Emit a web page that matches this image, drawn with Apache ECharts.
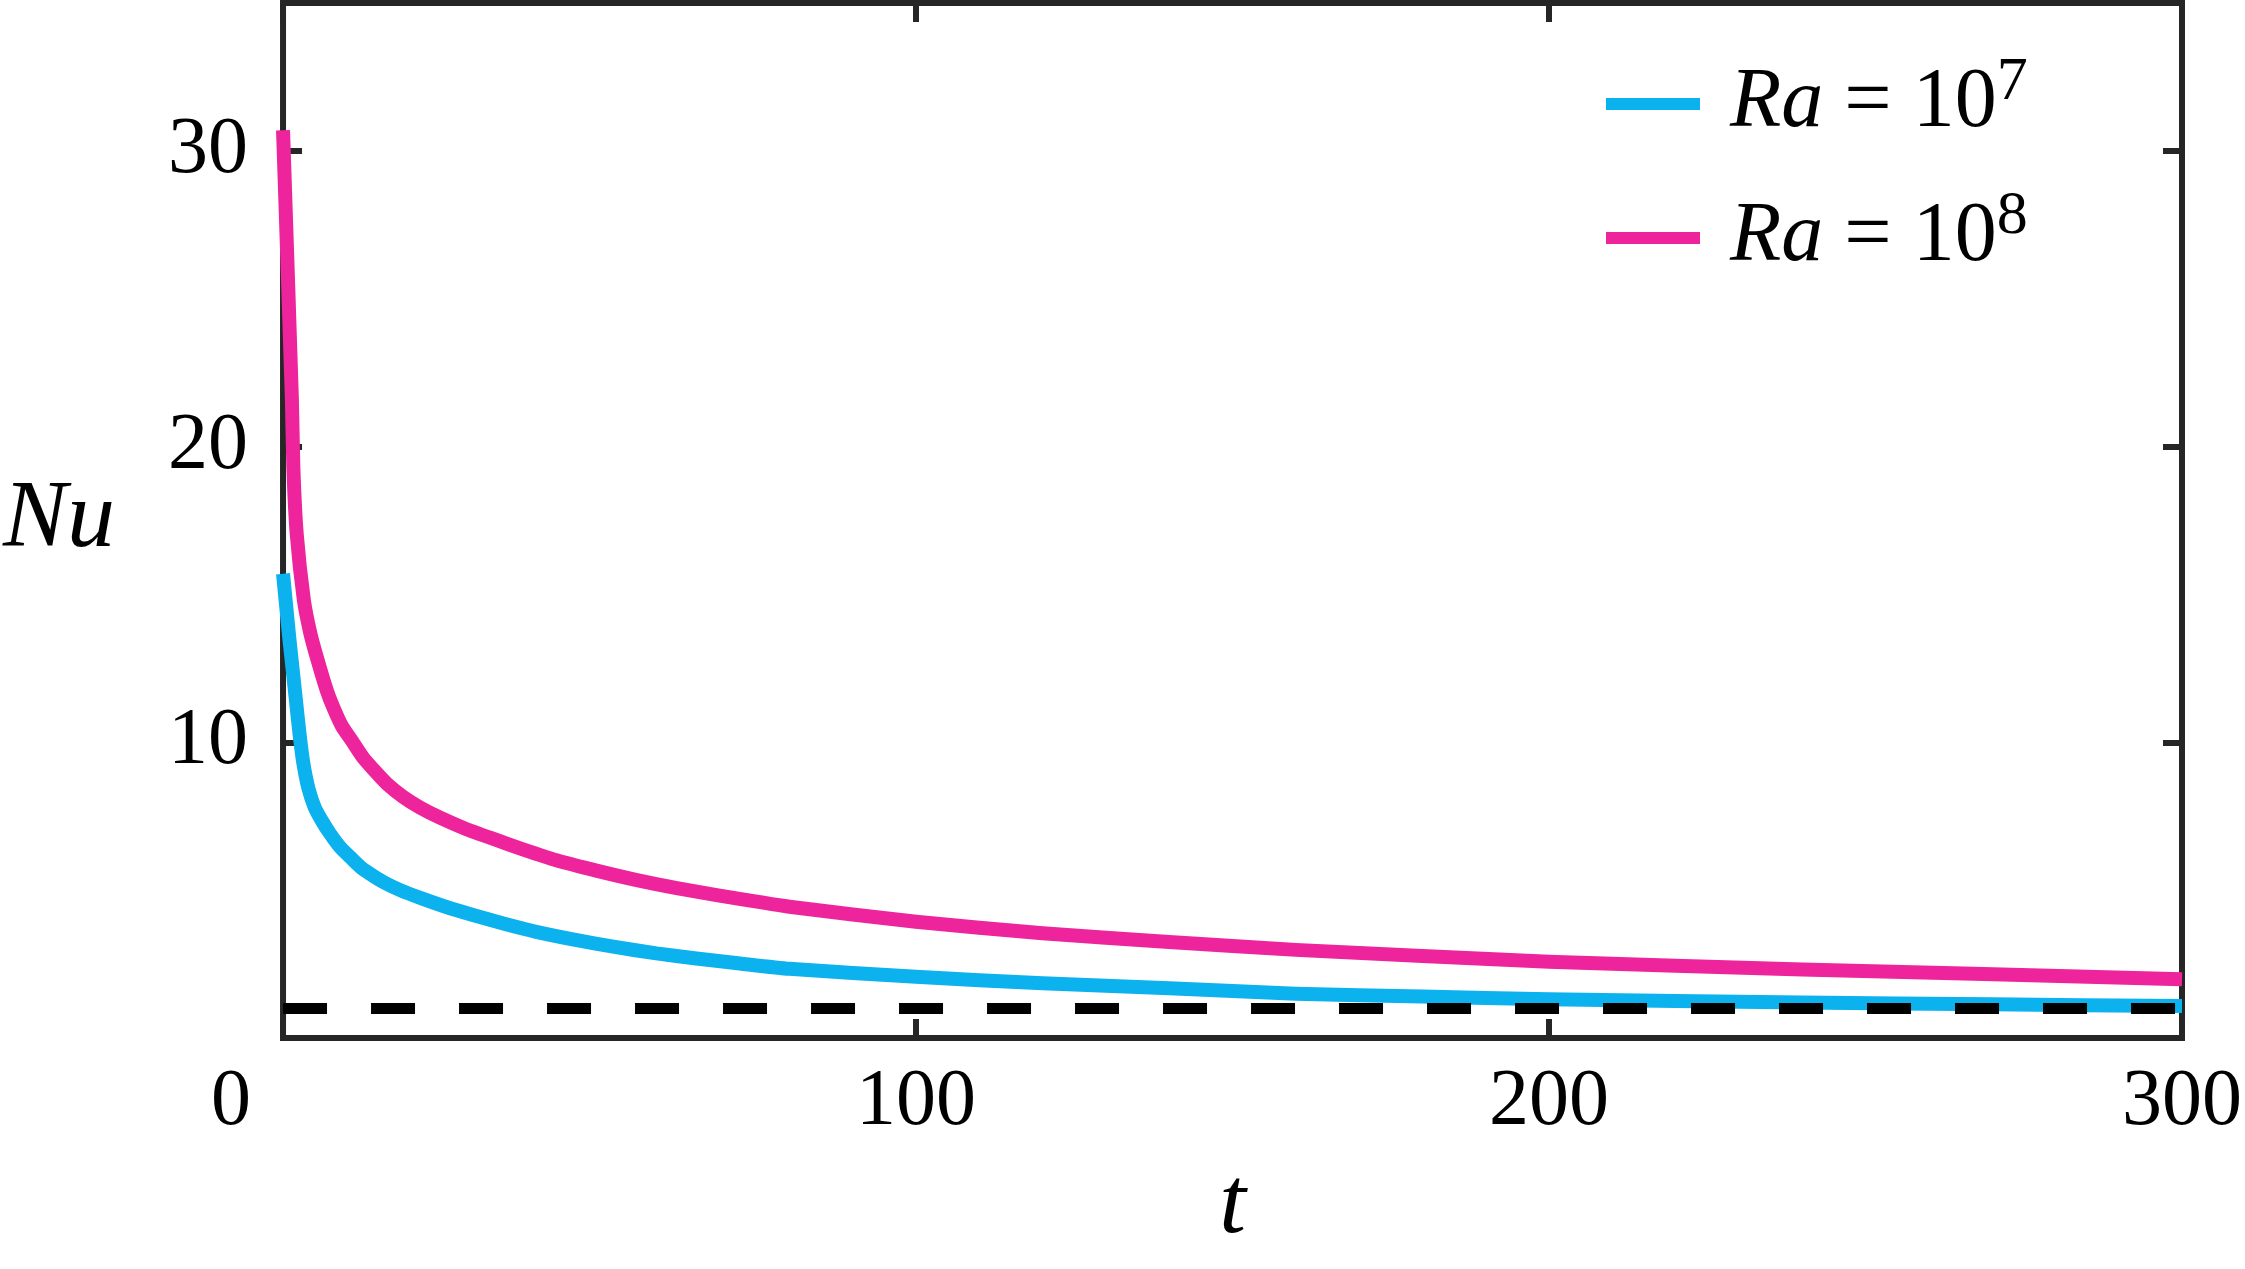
<!DOCTYPE html>
<html>
<head>
<meta charset="utf-8">
<script src="https://cdn.jsdelivr.net/npm/echarts@6/dist/echarts.min.js"></script>
<style>
html,body{margin:0;padding:0;background:#fff;}
#chart{width:2245px;height:1269px;}
</style>
</head>
<body>
<div id="chart"></div>
<script>
// ---- data ----
const tBlue  = [0, 0.5, 1.0, 1.5, 2.0, 2.6, 3.2, 4.0, 5.0, 6.1, 7.4, 9.0, 10.6, 12.2, 13.7, 15.8, 18.5, 21.9, 25.8, 30, 34.8, 40, 46.4, 52.4, 59, 65.3, 72.2, 80, 100, 120, 140, 160, 180, 200, 240, 270, 300];
const nuBlue = [15.7, 14.6, 13.5, 12.5, 11.5, 10.3, 9.3, 8.45, 7.8, 7.36, 6.92, 6.46, 6.12, 5.79, 5.56, 5.28, 5.0, 4.72, 4.43, 4.16, 3.87, 3.59, 3.31, 3.08, 2.86, 2.69, 2.52, 2.34, 2.07, 1.85, 1.68, 1.5, 1.4, 1.31, 1.2, 1.14, 1.08];
const tPink  = [0, 1.4, 1.63, 2.16, 3.3, 4.3, 5.3, 6.9, 7.9, 9.3, 11.1, 12.7, 14.8, 16.4, 19, 21.6, 24.8, 29, 33.8, 37.9, 43.2, 49.5, 55.9, 62.2, 68.5, 80, 100, 120, 140, 160, 200, 240, 300];
const nuPink = [30.7, 21.6, 19.3, 17.05, 14.8, 13.7, 12.9, 11.76, 11.2, 10.55, 9.98, 9.47, 8.96, 8.6, 8.15, 7.8, 7.45, 7.06, 6.69, 6.38, 6.01, 5.66, 5.34, 5.07, 4.83, 4.44, 3.93, 3.54, 3.25, 2.98, 2.58, 2.32, 1.99];
const refT   = [0, 300];
const refNu  = [1, 1];
const raExponents = [7, 8];
const seriesNames = ['Ra = 10^7', 'Ra = 10^8'];
const xTicks = [0, 100, 200, 300];
const yTicks = [10, 20, 30];

const FONT = '"Liberation Serif", "Times New Roman", Times, serif';
const AX = '#262626';
const BLUE = '#0CB2EE';
const PINK = '#EE249C';

const pairs = (xs, ys) => xs.map((x, i) => [x, ys[i]]);

function tick() {
  return { show: true, inside: true, length: 19, lineStyle: { color: AX, width: 6 } };
}

const chart = echarts.init(document.getElementById('chart'), null, { renderer: 'canvas' });
chart.setOption({
  animation: false,
  backgroundColor: '#fff',
  grid: {
    left: 283, right: 62, top: 3, bottom: 231,
    show: true, borderColor: AX, borderWidth: 6, backgroundColor: 'transparent'
  },
  legend: {
    data: seriesNames,
    orient: 'vertical',
    left: 1606, top: 52,
    padding: 0,
    itemWidth: 94, itemHeight: 12, itemGap: 40,
    icon: 'rect',
    formatter: function (name) {
      const e = raExponents[seriesNames.indexOf(name)];
      return '{i|Ra}{n| = 10}{s|' + e + '}';
    },
    textStyle: {
      padding: [0, 0, 0, 25],
      fontFamily: FONT, fontSize: 84, color: '#000',
      rich: {
        i: { fontFamily: FONT, fontStyle: 'italic', fontSize: 84, lineHeight: 84, color: '#000', verticalAlign: 'bottom' },
        n: { fontFamily: FONT, fontSize: 84, lineHeight: 84, color: '#000', verticalAlign: 'bottom' },
        s: { fontFamily: FONT, fontSize: 62, lineHeight: 62, color: '#000', verticalAlign: 'bottom', padding: [0, 0, 32, 0] }
      }
    }
  },
  xAxis: [
    {
      type: 'value', position: 'bottom',
      min: xTicks[0], max: xTicks[xTicks.length - 1], interval: xTicks[1] - xTicks[0],
      axisLine: { show: false, onZero: false },
      axisTick: tick(),
      splitLine: { show: false },
      axisLabel: {
        show: true, inside: false, margin: 25, color: '#000', fontFamily: FONT, fontSize: 80,
        formatter: function (v) { return v === 0 ? '{z|0}' : String(v); },
        rich: { z: { fontFamily: FONT, fontSize: 80, color: '#000', padding: [0, 104, 0, 0] } }
      },
      name: 't', nameLocation: 'middle', nameGap: 121,
      nameTextStyle: { fontFamily: FONT, fontStyle: 'italic', fontSize: 96, color: '#000' }
    },
    {
      type: 'value', position: 'top',
      min: xTicks[0], max: xTicks[xTicks.length - 1], interval: xTicks[1] - xTicks[0],
      axisLine: { show: false, onZero: false }, axisTick: tick(),
      axisLabel: { show: false }, splitLine: { show: false }
    }
  ],
  yAxis: [
    {
      type: 'value', position: 'left',
      min: 0, max: 35, interval: yTicks[1] - yTicks[0],
      axisLine: { show: false, onZero: false },
      axisTick: tick(),
      splitLine: { show: false },
      axisLabel: {
        show: true, inside: false, margin: 35, color: '#000', fontFamily: FONT, fontSize: 80,
        showMinLabel: false, showMaxLabel: false,
        formatter: function (v) { return yTicks.indexOf(v) >= 0 ? String(v) : ''; }
      },
      name: 'Nu', nameLocation: 'middle', nameGap: 168, nameRotate: 0,
      nameTextStyle: { fontFamily: FONT, fontStyle: 'italic', fontSize: 96, color: '#000' }
    },
    {
      type: 'value', position: 'right',
      min: 0, max: 35, interval: yTicks[1] - yTicks[0],
      axisLine: { show: false, onZero: false }, axisTick: tick(),
      axisLabel: { show: false }, splitLine: { show: false }
    }
  ],
  series: [
    {
      type: 'line', name: seriesNames[0], data: pairs(tBlue, nuBlue),
      showSymbol: false, symbol: 'none', clip: false, sampling: 'none', smooth: 0.2,
      color: BLUE, itemStyle: { color: BLUE },
      lineStyle: { color: BLUE, width: 14, join: 'round', cap: 'butt' }, z: 3
    },
    {
      type: 'line', name: seriesNames[1], data: pairs(tPink, nuPink),
      showSymbol: false, symbol: 'none', clip: false, sampling: 'none', smooth: 0.2,
      color: PINK, itemStyle: { color: PINK },
      lineStyle: { color: PINK, width: 14, join: 'round', cap: 'butt' }, z: 3
    },
    {
      type: 'line', name: 'reference', data: pairs(refT, refNu),
      showSymbol: false, symbol: 'none', clip: false,
      lineStyle: { color: '#000', width: 11, type: [44, 44], cap: 'butt' }, z: 4
    }
  ]
});
</script>
</body>
</html>
